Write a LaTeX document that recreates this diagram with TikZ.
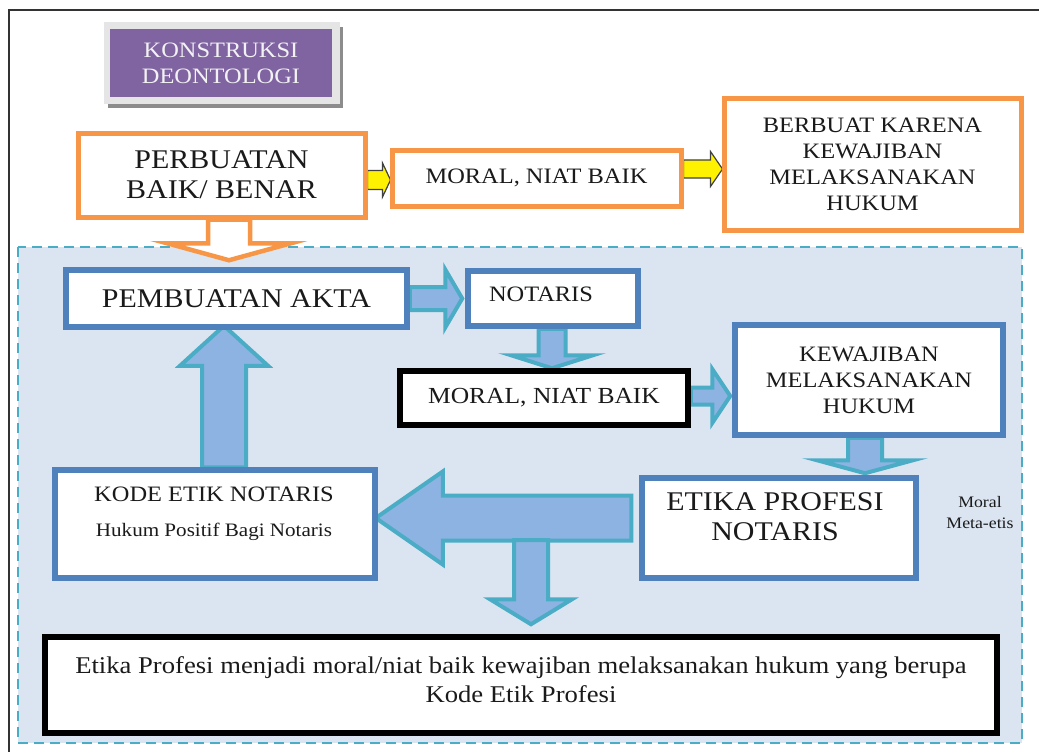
\documentclass[tikz,border=0pt]{standalone}
\usepackage{fontspec}
\setmainfont{Liberation Serif}[FakeStretch=1.11]
\usetikzlibrary{calc}
\definecolor{orng}{HTML}{F79646}
\definecolor{bblue}{HTML}{4F81BD}
\definecolor{tealc}{HTML}{4BACC6}
\definecolor{afill}{HTML}{8DB3E2}
\definecolor{regfill}{HTML}{DBE5F1}
\definecolor{purp}{HTML}{8064A2}
\definecolor{txtc}{HTML}{1A1A1A}
\pgfdeclarelayer{bglayer}
\pgfdeclarelayer{arrlayer}
\pgfsetlayers{bglayer,arrlayer,main}
\newcommand\fsz[2]{\fontsize{#1pt}{#2pt}\selectfont}
\newcommand\harr[6]{\draw[#1] let \p1=#2, \p2=#3, \n1={(\x2>\x1 ? 1 : -1)*#6} in
  (\x1,\y1+#4) -- (\x2-\n1,\y1+#4) -- (\x2-\n1,\y1+#5) -- (\x2,\y1) -- (\x2-\n1,\y1-#5) -- (\x2-\n1,\y1-#4) -- (\x1,\y1-#4) -- cycle;}
\newcommand\varr[6]{\draw[#1] let \p1=#2, \p2=#3, \n1={(\y2>\y1 ? 1 : -1)*#6} in
  (\x1+#4,\y1) -- (\x1+#4,\y2-\n1) -- (\x1+#5,\y2-\n1) -- (\x1,\y2) -- (\x1-#5,\y2-\n1) -- (\x1-#4,\y2-\n1) -- (\x1-#4,\y1) -- cycle;}
\tikzset{
  obox/.style={draw=orng, line width=5pt, fill=white, align=center, inner sep=0pt, text=txtc},
  bbox/.style={draw=bblue, line width=5.5pt, fill=white, align=center, inner sep=0pt, text=txtc},
  kbox/.style={draw=black, line width=5.5pt, fill=white, align=center, inner sep=0pt, text=txtc},
  txt/.style={align=center, inner sep=0pt, text=txtc},
  barrow/.style={draw=tealc, line width=4pt, fill=afill, line join=miter},
  yarrow/.style={draw=black!75, line width=1.2pt, fill=yellow, line join=miter},
  oarrow/.style={draw=orng, line width=4.5pt, fill=white, line join=miter},
}
\begin{document}
\begin{tikzpicture}[x=1pt,y=-1pt]
\useasboundingbox (0,0) rectangle (1039,752);
\clip (0,0) rectangle (1039,752);
\begin{pgfonlayer}{bglayer}
  \fill[white] (0,0) rectangle (1039,752);
  \draw[black!80, line width=1.2pt] (9,770) -- (9,10) -- (1060,10);
  \draw[tealc, line width=2.6pt, dash pattern=on 10pt off 6pt, fill=regfill] (18,247) rectangle (1022,743);
\end{pgfonlayer}

% title box
\fill[black!45] (108,27) rectangle (343,108);
\fill[black!10] (104,22) rectangle (340,104);
\node[fill=purp, minimum width=222pt, minimum height=68pt, inner sep=0pt, align=center,
      text=black!5, font=\fsz{22}{26}] (kons) at (221,63) {KONSTRUKSI\\DEONTOLOGI};

% upper orange row
\node[obox, minimum width=287pt, minimum height=84pt, font=\fsz{27}{30}] (perb) at (221.5,175) {PERBUATAN\\BAIK/ BENAR};
\node[obox, minimum width=289pt, minimum height=56pt, font=\fsz{22}{26}] (moral1) at (536.5,178) {MORAL, NIAT BAIK};
\node[obox, minimum width=297pt, minimum height=132pt, font=\fsz{22}{26}] (berbuat) at (872.5,164) {BERBUAT KARENA\\KEWAJIBAN\\MELAKSANAKAN\\HUKUM};

% lower blue region
\node[bbox, minimum width=341pt, minimum height=57pt, font=\fsz{27}{30}] (pemb) at (236.5,298.5) {PEMBUATAN AKTA};
\node[bbox, minimum width=170pt, minimum height=55pt] (notaris) at (553,298.5) {};
\node[txt, font=\fsz{22}{26}] (notarist) at (541,294) {NOTARIS};
\node[kbox, minimum width=288pt, minimum height=54pt, font=\fsz{23}{26}] (moral2) at (544,398) {MORAL, NIAT BAIK};
\node[bbox, minimum width=268pt, minimum height=110pt, font=\fsz{22}{26}] (kew) at (869,380) {KEWAJIBAN\\MELAKSANAKAN\\HUKUM};
\node[bbox, minimum width=274pt, minimum height=100pt] (etika) at (779,528) {};
\node[txt, font=\fsz{27}{30}] (etikat) at (775,517) {ETIKA PROFESI\\NOTARIS};
\node[txt, font=\fsz{16}{21}] (meta) at (980,513) {Moral\\Meta-etis};
\node[bbox, minimum width=320pt, minimum height=108pt] (kode) at (215,524) {};
\node[txt, font=\fsz{22}{26}] (kodet) at (214,494) {KODE ETIK NOTARIS};
\node[txt, font=\fsz{19}{22}] (kodes) at (214,532) {Hukum Positif Bagi Notaris};
\node[kbox, minimum width=952pt, minimum height=96pt] (bot) at (521,685) {};
\node[txt, font=\fsz{24}{29}] (bott) at (521,680) {Etika Profesi menjadi moral/niat baik kewajiban melaksanakan hukum yang berupa\\Kode Etik Profesi};

\coordinate (j) at (531,540);

\begin{pgfonlayer}{arrlayer}
  \varr{oarrow}{($(perb.south)+(7.5,0)$)}{($(pemb.north)+(0,-7)$)}{21pt}{62pt}{17pt}
  \harr{yarrow}{($(perb.east)+(0,5)$)}{($(moral1.west)+(1,0)$)}{9.5pt}{17pt}{8pt}
  \harr{yarrow}{($(moral1.east)+(0,-9)$)}{($(berbuat.west)+(1,0)$)}{9pt}{17.5pt}{12pt}
  \harr{barrow}{(pemb.east)}{($(notaris.west)+(-3,0)$)}{11.5pt}{29pt}{17pt}
  \varr{barrow}{($(notaris.south)+(-1,0)$)}{(moral2.north)}{13.5pt}{41pt}{13pt}
  \harr{barrow}{($(moral2.east)+(0,-2)$)}{($(kew.west)+(-2,0)$)}{8.5pt}{27pt}{18pt}
  \varr{barrow}{($(kew.south)+(-4,0)$)}{($(etika.north)+(0,-2)$)}{17pt}{48pt}{13pt}
  \harr{barrow}{($(etika.west)+(-8,-10)$)}{($(kode.east)+(-2,0)$)}{22.5pt}{46.5pt}{67pt}
  \varr{barrow}{(j)}{($(bot.north)+(0,-10)$)}{17pt}{41pt}{25pt}
  \varr{barrow}{($(kode.north)+(9,0)$)}{($(pemb.south)+(0,-4)$)}{22pt}{44pt}{40pt}
\end{pgfonlayer}
\end{tikzpicture}
\end{document}
